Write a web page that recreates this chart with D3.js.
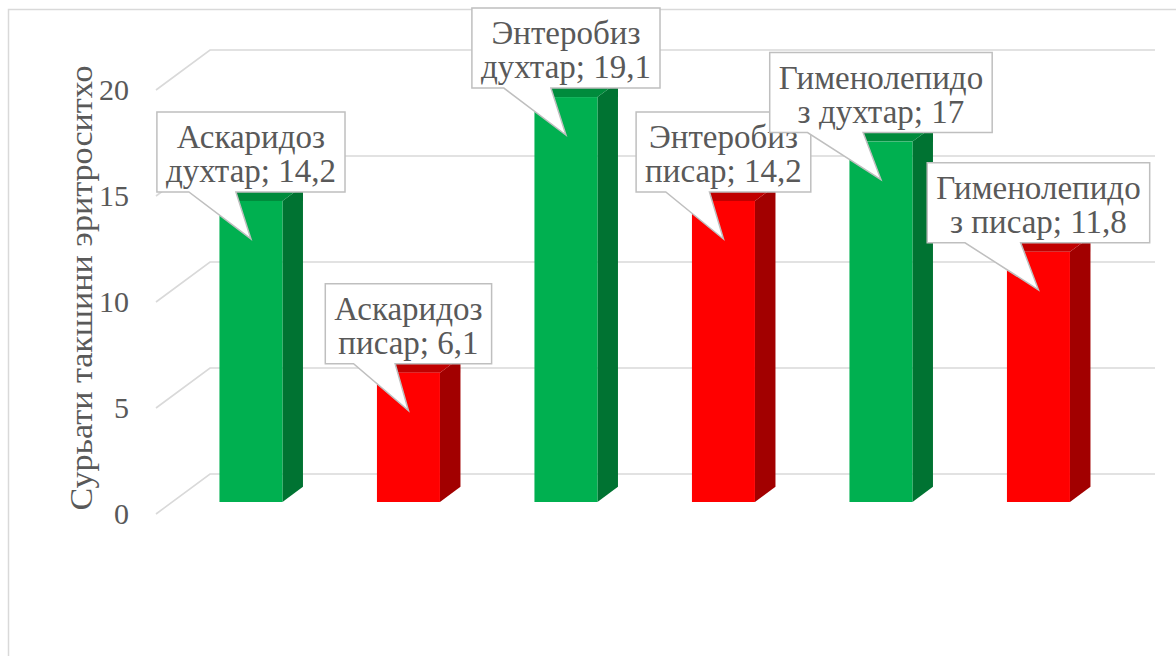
<!DOCTYPE html>
<html><head><meta charset="utf-8">
<script src="https://cdn.jsdelivr.net/npm/d3@7"></script>
<style>body{margin:0;background:#fff;}svg{display:block;}</style>
</head><body>
<svg id="c" width="1176" height="656"></svg>
<script>
// ---- data ----
const diseases = ["Аскаридоз", "Энтеробиз", "Гименолепидоз"];
const groups = ["духтар", "писар"];
const valuesDukhtar = [14.2, 19.1, 17];
const valuesPisar = [6.1, 14.2, 11.8];
const yTicks = [0, 5, 10, 15, 20];
const yTitle = "Сурьати такшини эритроситхо";

// ---- layout ----
const W = 1176, H = 656;
const DX = 54, DY = 40;          // depth projection of the 3D box
const d0 = 0.3, d1 = 0.68;       // bar depth range
const font = "Liberation Serif";
const textCol = "#595959";
const gridCol = "#D9D9D9";
const palette = {
  "духтар": {front: "#00B050", side: "#007332", top: "#008B3C"},
  "писар":  {front: "#FF0000", side: "#A20000", top: "#C00000"}
};

const bars = [];
diseases.forEach((dz, i) => {
  bars.push({disease: dz, group: groups[0], value: valuesDukhtar[i]});
  bars.push({disease: dz, group: groups[1], value: valuesPisar[i]});
});

const svg = d3.select("#c");
svg.append("rect").attr("x", 8.5).attr("y", 9.5).attr("width", 1300).attr("height", 800)
  .attr("fill", "#fff").attr("stroke", gridCol).attr("stroke-width", 1.5);

const x = d3.scaleBand().domain(d3.range(bars.length)).range([156, 1101])
  .paddingInner(0.6).paddingOuter(0.3);
const y = d3.scaleLinear().domain([0, 20]).range([514, 90]);
const xLeft = 156, xRight = 1101;

// gridlines: left wall diagonal + back wall horizontal
const grid = svg.append("g").attr("stroke", gridCol).attr("stroke-width", 1.6).attr("fill", "none");
yTicks.forEach(t => {
  const yf = y(t), yb = y(t) - DY;
  grid.append("path").attr("d", `M${xLeft},${yf}L${xLeft + DX},${yb}L${xRight + DX},${yb}`);
});

// tick labels
svg.append("g").selectAll("text").data(yTicks).join("text")
  .attr("x", 129).attr("y", d => y(d) - 1).attr("dy", "0.35em")
  .attr("text-anchor", "end").attr("font-family", font).attr("font-size", 30)
  .attr("fill", textCol).text(d => d);

// axis title
const title = svg.append("text").attr("transform", "translate(81,288) rotate(-90)")
  .attr("text-anchor", "middle").attr("dy", "0.35em")
  .attr("font-family", font).attr("font-size", 31).attr("fill", textCol).text(yTitle);
title.attr("textLength", 445).attr("lengthAdjust", "spacingAndGlyphs");

// bars
const ox = DX * d0, oy = DY * d0;
const ddx = DX * (d1 - d0), ddy = DY * (d1 - d0);
const gb = svg.append("g");
bars.forEach((b, i) => {
  const c = palette[b.group];
  const x0 = x(i) + ox, x1 = x0 + x.bandwidth();
  const yt = y(b.value) - oy, yb = y(0) - oy;
  gb.append("path").attr("fill", c.side)
    .attr("d", `M${x1},${yb}L${x1},${yt}L${x1 + ddx},${yt - ddy}L${x1 + ddx},${yb - ddy}Z`);
  gb.append("path").attr("fill", c.top)
    .attr("d", `M${x0},${yt}L${x1},${yt}L${x1 + ddx},${yt - ddy}L${x0 + ddx},${yt - ddy}Z`);
  gb.append("rect").attr("x", x0).attr("y", yt).attr("width", x1 - x0).attr("height", yb - yt)
    .attr("fill", c.front);
  b.cx = (x0 + x1) / 2; b.top = yt;
});

// callout labels
const fmt = v => String(v).replace(".", ",");
const gl = svg.append("g");
bars.forEach(b => {
  let l1, l2;
  if (b.disease.length > 12) {
    l1 = b.disease.slice(0, 12);
    l2 = b.disease.slice(12) + " " + b.group + "; " + fmt(b.value);
  } else {
    l1 = b.disease;
    l2 = b.group + "; " + fmt(b.value);
  }
  const g = gl.append("g");
  const path = g.append("path").attr("fill", "#fff").attr("stroke", "#BFBFBF").attr("stroke-width", 1.5);
  const t1 = g.append("text").text(l1);
  const t2 = g.append("text").text(l2);
  g.selectAll("text").attr("font-family", font).attr("font-size", 33).attr("fill", textCol)
    .attr("text-anchor", "middle");
  const w = Math.max(t1.node().getComputedTextLength(), t2.node().getComputedTextLength()) + 18;
  const tipX = b.cx, tipY = b.top + 38;
  const bot = tipY - 47, top = bot - 80;
  const l = tipX - w / 2, r = tipX + w / 2;
  const bL = l + 0.17 * w, bR = l + 0.42 * w;
  path.attr("d", `M${l},${top}L${r},${top}L${r},${bot}L${bR},${bot}L${tipX},${tipY}L${bL},${bot}L${l},${bot}Z`);
  t1.attr("x", tipX).attr("y", top + 36);
  t2.attr("x", tipX).attr("y", top + 70);
});
</script>
</body></html>
